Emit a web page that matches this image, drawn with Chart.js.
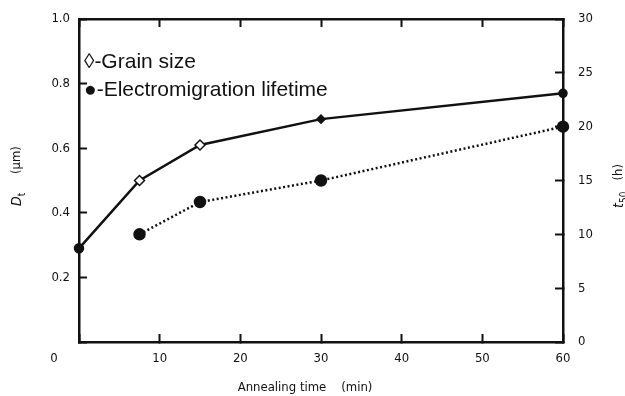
<!DOCTYPE html>
<html>
<head>
<meta charset="utf-8">
<script src="https://cdn.jsdelivr.net/npm/chart.js@4.4.1/dist/chart.umd.min.js"></script>
<style>
    html, body { margin: 0; padding: 0; background: #fff; }
    #wrap { width: 625px; height: 396px; }
</style>
</head>
<body>
<div id="wrap"><canvas id="chart"></canvas></div>
<script>
// annealing time (min) and the two measured series
const grainTimes = [0, 7.5, 15, 30, 60];
const grainSize = [0.29, 0.50, 0.61, 0.69, 0.77];
const lifeTimes = [7.5, 15, 30, 60];
const lifetime = [10, 13, 15, 20];

const xTicks = [0, 10, 20, 30, 40, 50, 60];
const leftTicks = [0, 0.2, 0.4, 0.6, 0.8, 1.0];
const rightTicks = [0, 5, 10, 15, 20, 25, 30];

const fam = "'DejaVu Sans Condensed', 'DejaVu Sans', sans-serif";
const tickFont = { family: fam, size: 13 };
const ink = "#111";

// draw a label made of pieces (normal / subscript), centred at 0,0
function drawPieces(ctx, pieces) {
    let total = 0;
    pieces.forEach(p => { ctx.font = p.font; p.w = ctx.measureText(p.text).width; total += p.w; });
    let x = -total / 2;
    pieces.forEach(p => {
        ctx.font = p.font;
        ctx.fillText(p.text, x, p.dy || 0);
        x += p.w;
    });
}

const annotations = {
    id: "annotations",
    afterDraw(chart) {
        const ctx = chart.ctx;
        const area = chart.chartArea;
        ctx.save();
        ctx.fillStyle = ink;
        ctx.textBaseline = "middle";
        ctx.textAlign = "left";

        // legend text inside the plot
        ctx.font = "21px 'Liberation Sans', Arial, sans-serif";
        ctx.fillText("\u25CA-Grain size", area.left + 5, 62);
        ctx.fillText("\u25CF-Electromigration lifetime", area.left + 5, 90);

        // shared origin label
        ctx.font = "13px " + fam;
        ctx.textAlign = "center";
        ctx.fillText("0", area.left - 25, area.bottom + 17);

        // x title
        ctx.font = "13px " + fam;
        ctx.fillText("Annealing time    (min)", 305, 388);

        const base = "13px " + fam;
        const ital = "italic 14px " + fam;
        const sub = "10px " + fam;
        ctx.textAlign = "left";

        // left title
        ctx.save();
        ctx.translate(17, 176);
        ctx.rotate(-Math.PI / 2);
        drawPieces(ctx, [
            { text: "D", font: ital },
            { text: "t", font: sub, dy: 5 },
            { text: "     (\u03BCm)", font: base }
        ]);
        ctx.restore();

        // right title
        ctx.save();
        ctx.translate(619, 186);
        ctx.rotate(-Math.PI / 2);
        drawPieces(ctx, [
            { text: "t", font: ital },
            { text: "50", font: sub, dy: 5 },
            { text: "   (h)", font: base }
        ]);
        ctx.restore();

        ctx.restore();
    }
};

const grainData = grainTimes.map((t, i) => ({ x: t, y: grainSize[i] }));
const lifeData = lifeTimes.map((t, i) => ({ x: t, y: lifetime[i] }));

function fitY(width) {
    return s => { s.width = width; s.paddingTop = 0; s.paddingBottom = 0; };
}
function fitX(height) {
    return s => { s.height = height; s.paddingLeft = 0; s.paddingRight = 0; };
}

const ctx = document.getElementById("chart").getContext("2d");

new Chart(ctx, {
    type: "line",
    data: {
        datasets: [{
            label: "Grain size",
            data: grainData,
            yAxisID: "y",
            clip: false,
            borderColor: ink,
            borderWidth: 2.5,
            pointStyle: ["circle", "rectRot", "rectRot", "rectRot", "circle"],
            pointRadius: [4.5, 5, 5, 4, 4],
            pointBackgroundColor: [ink, "#fff", "#fff", ink, ink],
            pointBorderColor: ink,
            pointBorderWidth: 1.5,
            tension: 0
        }, {
            label: "Electromigration lifetime",
            data: lifeData,
            yAxisID: "y1",
            clip: false,
            borderColor: ink,
            borderWidth: 2.5,
            borderDash: [2, 2.5],
            pointStyle: "circle",
            pointRadius: 5,
            pointBackgroundColor: ink,
            pointBorderColor: ink,
            tension: 0
        }]
    },
    options: {
        responsive: true,
        maintainAspectRatio: false,
        animation: false,
        layout: { padding: { top: 19, left: 0, right: 0, bottom: 0 } },
        plugins: {
            legend: { display: false },
            tooltip: { enabled: false }
        },
        scales: {
            x: {
                type: "linear",
                position: "bottom",
                min: 0, max: 60,
                afterBuildTicks: s => { s.ticks = xTicks.map(v => ({ value: v })); },
                afterFit: fitX(54),
                ticks: {
                    font: tickFont, color: ink, padding: 17,
                    callback: v => v === 0 ? "" : v
                },
                grid: { drawOnChartArea: false, tickLength: -8, tickWidth: 2, tickColor: ink },
                border: { color: ink, width: 2.5 }
            },
            xTop: {
                type: "linear",
                position: "top",
                min: 0, max: 60,
                afterBuildTicks: s => { s.ticks = xTicks.map(v => ({ value: v })); },
                afterFit: fitX(0),
                ticks: { display: false },
                grid: { drawOnChartArea: false, tickLength: -8, tickWidth: 2, tickColor: ink },
                border: { color: ink, width: 2.5 }
            },
            y: {
                position: "left",
                min: 0, max: 1.0,
                afterBuildTicks: s => { s.ticks = leftTicks.map(v => ({ value: v })); },
                afterFit: fitY(79),
                ticks: {
                    font: tickFont, color: ink, padding: 17,
                    callback: v => v === 0 ? "" : v.toFixed(1)
                },
                grid: { drawOnChartArea: false, tickLength: -8, tickWidth: 2, tickColor: ink },
                border: { color: ink, width: 2.5 }
            },
            y1: {
                position: "right",
                min: 0, max: 30,
                afterBuildTicks: s => { s.ticks = rightTicks.map(v => ({ value: v })); },
                afterFit: fitY(62),
                ticks: { font: tickFont, color: ink, padding: 23 },
                grid: { drawOnChartArea: false, tickLength: -8, tickWidth: 2, tickColor: ink },
                border: { color: ink, width: 2.5 }
            }
        }
    },
    plugins: [annotations]
});
</script>
</body>
</html>
